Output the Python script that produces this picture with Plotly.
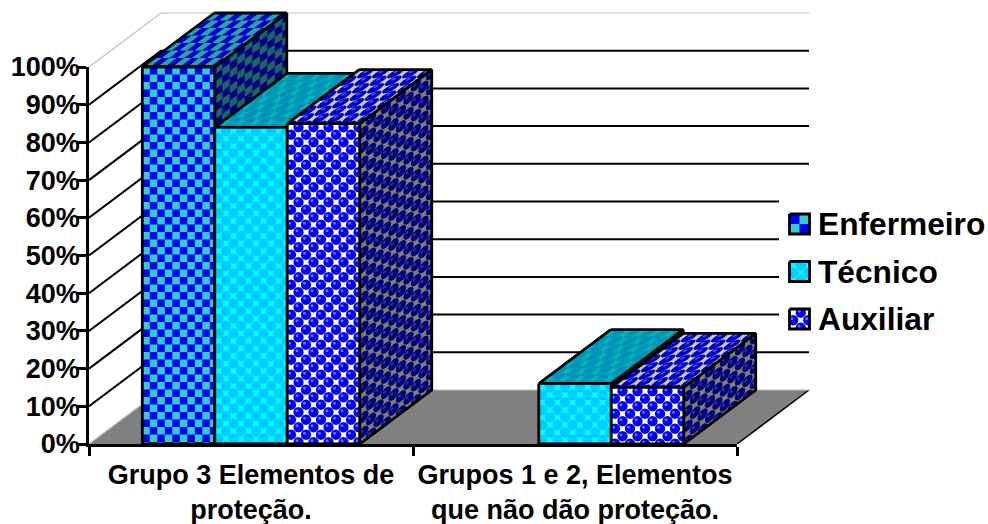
import math
import plotly.graph_objects as go

# ---- data ----
categories = ["Grupo 3 Elementos de<br>proteção.", "Grupos 1 e 2, Elementos<br>que não dão proteção."]
series_names = ["Enfermeiro", "Técnico", "Auxiliar"]
enfermeiro = [100, 0]
tecnico = [84, 16]
auxiliar = [85, 15]
y_ticks = [0, 10, 20, 30, 40, 50, 60, 70, 80, 90, 100]
y_tick_labels = ["0%", "10%", "20%", "30%", "40%", "50%", "60%", "70%", "80%", "90%", "100%"]

# ---- pseudo-3D geometry ----
FONT = "Liberation Sans"
W, H = 988, 524
PLOT_L, PLOT_T, PLOT_R, PLOT_B = 89, 67, 737, 444
PX_X = (PLOT_R - PLOT_L) / 2      # pixels per category
PX_Y = (PLOT_B - PLOT_T) / 100    # pixels per percent
DEPTH_PX_X, DEPTH_PX_Y = 72, 54
DX, DY = DEPTH_PX_X / PX_X, DEPTH_PX_Y / PX_Y
BAR_W = 0.2237
BAR_OFF = 0.1645
CELL = 7.5


def to_x(px):
    return (px - PLOT_L) / PX_X


def to_y(py):
    return (PLOT_B - py) / PX_Y


def shade(rgb, k):
    return "rgb(%d,%d,%d)" % tuple(round(c * k) for c in rgb)


fig = go.Figure()


def poly(xs, ys, fill=None, line=None, width=0, group=None):
    kw = dict(x=xs, y=ys, hoverinfo="skip", showlegend=False, legendgroup=group)
    if fill:
        kw.update(fill="toself", fillcolor=fill)
    if line:
        kw.update(mode="lines", line=dict(color=line, width=width, simplify=False))
    else:
        kw.update(mode="none")
    fig.add_trace(go.Scatter(**kw))


class Face:
    """Parallelogram: origin, a-side vector, b-side vector (data units), with pixel lengths."""

    def __init__(self, o, a, b, la, lb):
        self.o, self.a, self.b, self.la, self.lb = o, a, b, la, lb

    def pt(self, s, t):
        s = min(max(s, 0), self.la) / self.la
        t = min(max(t, 0), self.lb) / self.lb
        return self.o[0] + self.a[0] * s + self.b[0] * t, self.o[1] + self.a[1] * s + self.b[1] * t

    def outline(self):
        pts = [self.pt(0, 0), self.pt(self.la, 0), self.pt(self.la, self.lb), self.pt(0, self.lb), self.pt(0, 0)]
        return [p[0] for p in pts], [p[1] for p in pts]

    def cells(self, parity, cell=CELL):
        xs, ys = [], []
        for i in range(int(self.la / cell) + 1):
            for j in range(int(self.lb / cell) + 1):
                if (i + j) % 2 != parity:
                    continue
                s0, t0 = i * cell, j * cell
                for s, t in [(s0, t0), (s0 + cell, t0), (s0 + cell, t0 + cell), (s0, t0 + cell), (s0, t0)]:
                    p = self.pt(s, t)
                    xs.append(p[0])
                    ys.append(p[1])
                xs.append(None)
                ys.append(None)
        return xs, ys

    def dots(self, parity, r, cell=CELL, ox=0.0, oy=0.0):
        xs, ys = [], []
        for i in range(int(self.la / cell) + 1):
            for j in range(int(self.lb / cell) + 1):
                if (i + j) % 2 != parity:
                    continue
                cs, ct = (i + 0.5) * cell + ox, (j + 0.5) * cell + oy
                for k in range(13):
                    ang = 2 * math.pi * k / 12
                    p = self.pt(cs + r * math.cos(ang), ct + r * math.sin(ang))
                    xs.append(p[0])
                    ys.append(p[1])
                xs.append(None)
                ys.append(None)
        return xs, ys


BLUE = (0, 0, 255)
TEAL = (51, 204, 204)
CYAN = (0, 255, 255)
CYAN2 = (0, 204, 255)
CREAM = (255, 255, 204)
LAV = (160, 160, 255)
LIGHT = (110, 110, 255)


def paint(face, kind, k, group=None, cell=CELL, flip=0):
    ox = face.outline()
    if kind == 0:
        poly(*ox, fill=shade(TEAL, k), group=group)
        poly(*face.cells(1 - flip, cell), fill=shade(BLUE, k), group=group)
    elif kind == 1:
        poly(*ox, fill=shade(CYAN, k), group=group)
        poly(*face.dots(1, 5.2, cell), fill=shade(CYAN2, k), group=group)
    else:
        poly(*ox, fill=shade(LAV, k), group=group)
        poly(*face.cells(0, cell), fill=shade(CREAM, k), group=group)
        poly(*face.dots(1, 5.2, cell), fill=shade(BLUE, k), group=group)
        poly(*face.dots(1, 1.5, cell, -1.5, -1.5), fill=shade(LIGHT, k), group=group)
    poly(*ox, line="black", width=2.8, group=group)


# ---- walls, floor, gridlines ----
poly([0, DX, DX, 0, 0], [0, DY, 100 + DY, 100, 0], fill="white")
poly([DX, 2 + DX, 2 + DX, DX, DX], [DY, DY, 100 + DY, 100 + DY, DY], fill="white")
poly([0, DX, 2 + DX, 2, 0], [0, DY, DY, 0, 0], fill="#808080")
poly([2, 2 + DX], [0, DY], line="black", width=1.5)
for t in y_ticks:
    col, w = ("#c0c0c0", 1.2) if t in (0, 100) else ("black", 2)
    poly([0, DX, 2 + DX], [t, t + DY, t + DY], line=col, width=w)

# ---- white box behind the legend, legend keys ----
poly([to_x(779), to_x(W), to_x(W), to_x(779), to_x(779)],
     [to_y(190), to_y(190), to_y(340), to_y(340), to_y(190)], fill="white")
SWATCH_CY = [224, 271.5, 319]
for kind, cy in enumerate(SWATCH_CY):
    side = 20
    o = (to_x(789.5), to_y(cy - side / 2))
    a = (side / PX_X, 0)
    b = (0, -side / PX_Y)
    paint(Face(o, a, b, side, side), kind, 1, group=series_names[kind],
          cell=10 if kind == 0 else CELL, flip=1 if kind == 0 else 0)

# ---- bars, left to right ----
all_series = [enfermeiro, tecnico, auxiliar]
TOP_SHADE = [0.8, 0.72, 0.8]
for c in range(len(categories)):
    for s, values in enumerate(all_series):
        v = values[c]
        if v <= 0:
            continue
        name = series_names[s]
        x0 = c + BAR_OFF + s * BAR_W
        front = Face((x0, v), (BAR_W, 0), (0, -v), BAR_W * PX_X, v * PX_Y)
        top = Face((x0 + DX, v + DY), (BAR_W, 0), (-DX, -DY), BAR_W * PX_X, DEPTH_PX_Y)
        side = Face((x0 + BAR_W, v), (DX, DY), (0, -v), DEPTH_PX_X, v * PX_Y)
        paint(side, s, 0.5, group=name)
        paint(top, s, TOP_SHADE[s], group=name)
        paint(front, s, 1.0, group=name)

# ---- legend entries: text from the real legend, keys painted beneath it ----
for s, name in enumerate(series_names):
    fig.add_trace(go.Scatter(x=[None], y=[None], mode="markers", name=name, legendgroup=name,
                             marker=dict(symbol="square", size=1, color="rgba(0,0,0,0)",
                                         line=dict(width=0)),
                             hoverinfo="skip", showlegend=True))

# ---- the visible axes live on their own subplot, which spans exactly 0-100 % and both categories ----
fig.add_trace(go.Scatter(x=[None], y=[None], xaxis="x2", yaxis="y2", mode="none",
                         hoverinfo="skip", showlegend=False))

axis_line = dict(showgrid=False, zeroline=False, showline=True, linecolor="black", linewidth=2.5,
                 ticks="outside", ticklen=9, tickwidth=2.5, tickcolor="black",
                 fixedrange=True, automargin=False)
tick_font = dict(family=FONT, size=27, weight=700, color="black")
plot_w, plot_h = W - PLOT_L, PLOT_B

fig.update_layout(
    width=W, height=H, autosize=False,
    margin=dict(l=PLOT_L, r=0, t=0, b=H - PLOT_B, pad=0, autoexpand=False),
    paper_bgcolor="white", plot_bgcolor="rgba(0,0,0,0)",
    font=dict(family=FONT, color="black"),
    showlegend=True,
    legend=dict(x=(778 - PLOT_L) / plot_w, xanchor="left",
                y=(PLOT_B - 196) / plot_h, yanchor="top",
                bgcolor="rgba(0,0,0,0)", borderwidth=0, tracegroupgap=3, itemwidth=30,
                font=dict(family=FONT, size=31.7, weight=700, color="black"),
                itemclick=False, itemdoubleclick=False),
    xaxis=dict(range=[0, to_x(W)], visible=False, fixedrange=True),
    yaxis=dict(range=[0, to_y(0)], visible=False, fixedrange=True),
    xaxis2=dict(domain=[0, (PLOT_R - PLOT_L) / plot_w], anchor="y2", range=[0, 2],
                tickmode="array", tickvals=[0.5, 1.5], ticktext=categories, tickfont=tick_font,
                minor=dict(ticks="outside", tickvals=[0, 1, 2], ticklen=9, tickwidth=2.5, tickcolor="black"),
                ticklabelstandoff=-4,
                **{**axis_line, "tickcolor": "rgba(0,0,0,0)"}),
    yaxis2=dict(domain=[0, (PLOT_B - PLOT_T) / plot_h], anchor="x2", range=[0, 100],
                tickmode="array", tickvals=y_ticks, ticktext=y_tick_labels, tickfont=tick_font,
                ticklabelstandoff=-8, **axis_line),
)

fig.write_html("out.html", post_script="document.body.style.margin='0';document.body.style.overflow='hidden';",
               config={"displayModeBar": False})
